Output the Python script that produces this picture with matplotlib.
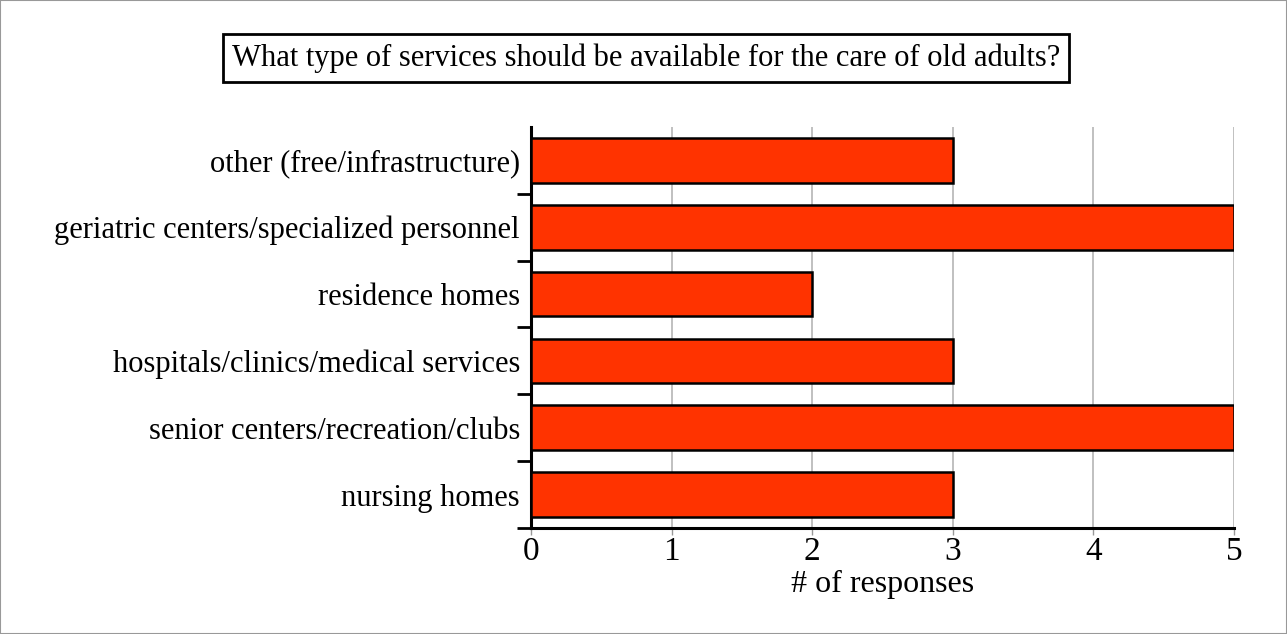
import matplotlib
matplotlib.use("Agg")
import matplotlib.pyplot as plt
from matplotlib.patches import Rectangle

categories = [
    "nursing homes",
    "senior centers/recreation/clubs",
    "hospitals/clinics/medical services",
    "residence homes",
    "geriatric centers/specialized personnel",
    "other (free/infrastructure)",
]
responses = [3, 5, 3, 2, 5, 3]
x_ticks = [0, 1, 2, 3, 4, 5]

plt.rcParams["font.family"] = ["Liberation Serif", "DejaVu Serif"]

fig = plt.figure(figsize=(12.87, 6.34), dpi=100)
ax = fig.add_axes([0.4126, 0.1672, 0.5462, 0.6325])

pos = list(range(len(categories)))
ax.barh(pos, responses, height=0.67, color="#ff3300", edgecolor="black",
        linewidth=1.8, zorder=3)

ax.set_xlim(0, 5)
ax.set_ylim(-0.5, len(categories) - 0.5)
ax.set_xticks(x_ticks)
ax.set_xticklabels([str(t) for t in x_ticks], fontsize=24)
ax.tick_params(axis="x", colors="#999999", length=5, width=1, labelcolor="black", pad=1)
ax.grid(axis="x", color="#b5b5b5", linewidth=1.2, zorder=0)

ax.set_yticks(pos)
ax.set_yticklabels(categories, fontsize=22)
ax.tick_params(axis="y", which="major", length=0, pad=8)
ax.set_yticks([p - 0.5 for p in pos], minor=True)
ax.tick_params(axis="y", which="minor", length=10, width=2, color="black")

for s in ("top", "right"):
    ax.spines[s].set_visible(False)
ax.spines["left"].set_linewidth(2.2)
ax.spines["bottom"].set_linewidth(2.2)

ax.set_xlabel("# of responses", fontsize=23, labelpad=2)

fig.text(0.502, 0.908, "What type of services should be available for the care of old adults?",
         ha="center", va="center", fontsize=22,
         bbox=dict(boxstyle="square,pad=0.3", facecolor="white", edgecolor="black", linewidth=2))

fig.patches.append(Rectangle((0, 0), 1, 1, transform=fig.transFigure, fill=False,
                             edgecolor="#999999", linewidth=1.5))

fig.savefig("out.png", dpi=100)
